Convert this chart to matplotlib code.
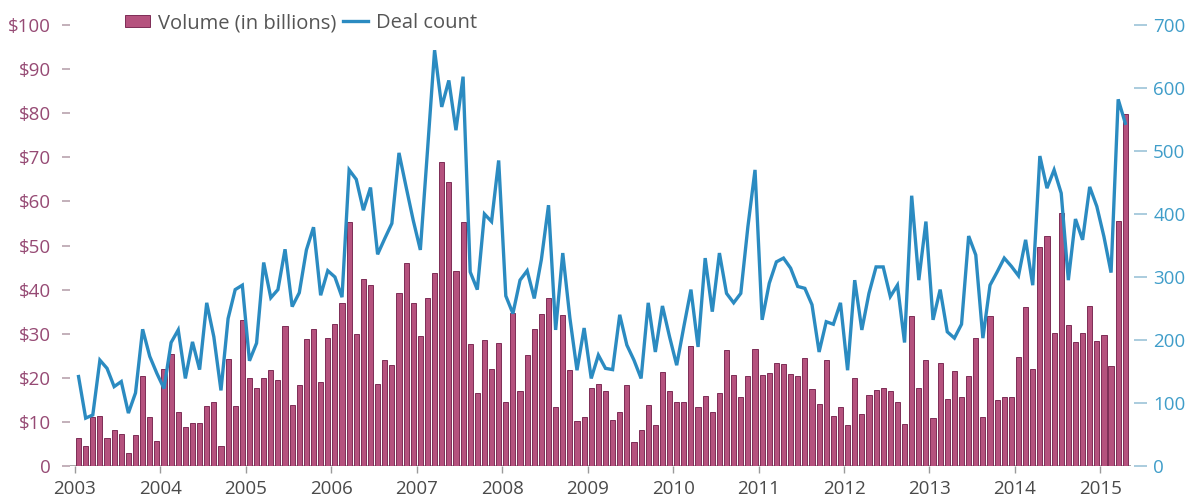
import numpy as np
import matplotlib
matplotlib.use('Agg')
import matplotlib.pyplot as plt
from matplotlib.patches import Patch
from matplotlib.lines import Line2D

# monthly data, Jan 2003 - Apr 2015
years = list(range(2003, 2016))

volume = [
    6.3, 4.5, 11.2, 11.4, 6.3, 8.2, 7.2, 3.0, 7.0, 20.3, 11.2, 5.7,        # 2003
    22.1, 25.5, 12.2, 8.9, 9.7, 9.8, 13.6, 14.4, 4.6, 24.3, 13.7, 33.0,    # 2004
    19.9, 17.6, 19.9, 21.8, 19.5, 31.7, 13.8, 18.4, 28.7, 31.0, 19.0, 29.1,  # 2005
    32.2, 37.0, 55.3, 29.9, 42.3, 41.0, 18.7, 24.0, 22.9, 39.3, 46.1, 37.0,  # 2006
    29.5, 38.2, 43.7, 69.0, 64.5, 44.3, 55.4, 27.7, 16.5, 28.6, 22.1, 28.0,  # 2007
    14.6, 34.6, 16.9, 25.2, 31.0, 34.5, 38.2, 13.3, 34.2, 21.8, 10.3, 11.0,  # 2008
    17.8, 18.7, 17.1, 10.4, 12.3, 18.4, 5.5, 8.2, 13.8, 9.3, 21.4, 17.0,     # 2009
    14.6, 14.6, 27.2, 13.3, 15.9, 12.2, 16.5, 26.2, 20.6, 15.7, 20.4, 26.5,  # 2010
    20.6, 21.2, 23.3, 23.1, 20.8, 20.3, 24.6, 17.5, 14.1, 24.0, 11.3, 13.3,  # 2011
    9.3, 20.0, 11.8, 16.0, 17.2, 17.6, 16.9, 14.6, 9.5, 34.0, 17.6, 24.0,    # 2012
    10.8, 23.3, 15.3, 21.6, 15.7, 20.3, 29.0, 11.2, 34.0, 15.0, 15.7, 15.7,  # 2013
    24.8, 36.0, 21.9, 49.7, 52.2, 30.2, 57.3, 32.0, 28.2, 30.1, 36.3, 28.4,  # 2014
    29.7, 22.7, 55.6, 79.8,                                                  # 2015
]

deals = [
    142, 76, 81, 168, 155, 126, 134, 84, 116, 217, 174, 147,
    123, 196, 216, 139, 197, 153, 259, 205, 120, 234, 280, 287,
    167, 195, 323, 267, 280, 344, 253, 275, 343, 379, 271, 310,
    300, 268, 470, 455, 406, 442, 336, 361, 385, 497, 443, 390,
    343, 500, 660, 570, 612, 533, 618, 308, 280, 400, 388, 485,
    270, 242, 295, 310, 266, 328, 414, 216, 338, 235, 152, 219,
    139, 176, 155, 153, 240, 192, 168, 139, 259, 181, 254, 205,
    160, 221, 280, 189, 330, 245, 338, 274, 259, 274, 380, 470,
    232, 290, 324, 330, 314, 285, 282, 256, 181, 229, 225, 259,
    152, 295, 216, 274, 316, 316, 269, 287, 196, 429, 295, 388,
    232, 280, 213, 203, 225, 365, 335, 203, 287, 308, 330, 317,
    302, 359, 287, 492, 441, 470, 433, 295, 392, 359, 443, 412,
    364, 307, 582, 544,
]

left_ticks = list(range(0, 101, 10))
left_labels = ['0'] + ['$%d' % v for v in left_ticks[1:]]
right_ticks = list(range(0, 701, 100))

bar_face = '#b5527e'
bar_edge = '#7e2d56'
line_col = '#2b8bc1'
left_col = '#964a74'
right_col = '#3f9dc9'

plt.rcParams['font.family'] = ['Open Sans', 'DejaVu Sans']

fig = plt.figure(figsize=(11.95, 4.99), dpi=100)
ax = fig.add_axes([70 / 1195, 1 - 466 / 499, (1131 - 70) / 1195, (466 - 25) / 499])
ax2 = ax.twinx()

x = np.arange(len(volume))
ax.bar(x, volume, width=0.72, color=bar_face, edgecolor=bar_edge, linewidth=0.7)
ax2.plot(np.arange(len(deals)), deals, color=line_col, lw=2.4, solid_joinstyle='miter')

ax.set_xlim(-1.2, 147.8)
ax.set_ylim(0, 100)
ax2.set_ylim(0, 700)

for a in (ax, ax2):
    for s in ('top', 'right', 'left', 'bottom'):
        a.spines[s].set_visible(False)
ax.axhline(0, color='#9a9a9a', lw=1.2, zorder=0)

ax.set_xticks([12 * (y - 2003) - 0.5 for y in years])
ax.set_xticklabels([str(y) for y in years])
ax.tick_params(axis='x', length=5, width=1, color='#9a9a9a', labelsize=13.5,
               labelcolor='#4a4a4a', pad=5)

ax.set_yticks(left_ticks)
ax.set_yticklabels(left_labels)
ax.tick_params(axis='y', length=6, width=1.2, color='#b9a3ae', labelsize=13.5,
               labelcolor=left_col, pad=8)
ax.tick_params(axis='y', which='both', right=False)

ax2.spines['right'].set_position(('outward', 2))
ax2.set_yticks(right_ticks)
ax2.tick_params(axis='y', length=9, width=1.2, color='#9cc4d8', labelsize=13.5,
                labelcolor=right_col, pad=5)

handles = [Patch(facecolor=bar_face, edgecolor=bar_edge, lw=0.7),
           Line2D([], [], color=line_col, lw=2.4)]
fig.legend(handles, ['Volume (in billions)', 'Deal count'], ncol=2,
           loc='center left', bbox_to_anchor=(125 / 1195, 1 - 23 / 499),
           frameon=False, fontsize=14.5, labelcolor='#555555',
           handlelength=1.25, handleheight=0.55, handletextpad=0.4,
           columnspacing=0.3, borderpad=0, borderaxespad=0)

fig.savefig('out.png', dpi=100, facecolor='white')
